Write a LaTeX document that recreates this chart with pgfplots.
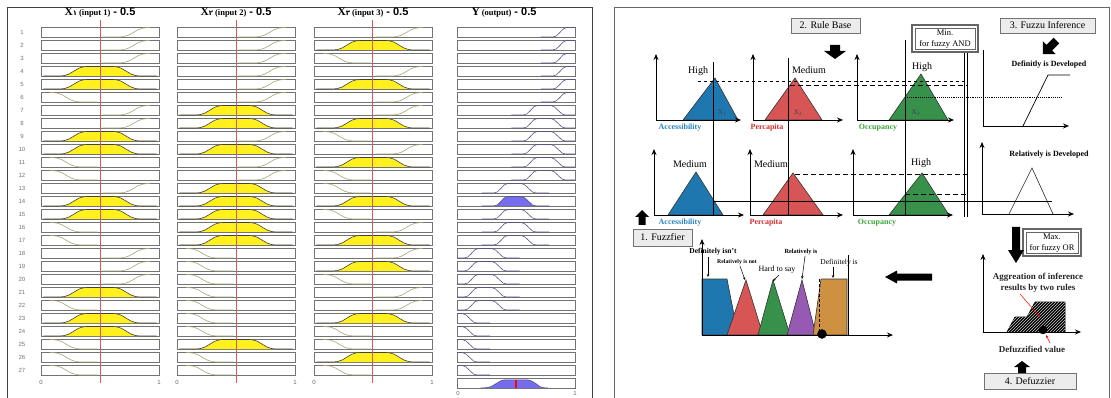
\documentclass[border=0pt]{standalone}
\usepackage{pgfplots}
\pgfplotsset{compat=1.18}
\usepackage{pgfplotstable}
\usepackage{fontspec}
\setmainfont{Liberation Serif}
\newfontfamily\sansf{Liberation Sans}
\newfontfamily\fadig{DejaVu Sans}
\usetikzlibrary{arrows.meta,patterns}

\definecolor{tblue}{RGB}{30,120,175}
\definecolor{tred}{RGB}{215,85,85}
\definecolor{tgreen}{RGB}{55,145,75}
\definecolor{tpurple}{RGB}{150,90,180}
\definecolor{torange}{RGB}{205,145,65}
\definecolor{lblue}{RGB}{40,130,190}
\definecolor{lred}{RGB}{210,45,45}
\definecolor{lgreen}{RGB}{60,165,60}
\definecolor{boxgray}{RGB}{236,236,236}
\definecolor{mfin}{RGB}{165,165,120}
\definecolor{mfout}{RGB}{85,85,135}
\definecolor{yfillc}{RGB}{118,108,238}
\definecolor{yel}{RGB}{255,240,30}
\definecolor{mred}{RGB}{210,90,90}

% membership functions, x in [0,1], y = degree
\pgfplotstableread{
x y
0.08 1
0.10 1
0.14 0.93
0.18 0.75
0.22 0.45
0.26 0.18
0.30 0.04
0.34 0
0.48 0
}\tLo
\pgfplotstableread{
x y
0.52 0
0.66 0
0.70 0.04
0.74 0.18
0.78 0.45
0.82 0.75
0.86 0.93
0.90 1
0.92 1
}\tHi
\pgfplotstableread{
x y
0.02 0
0.16 0
0.20 0.05
0.24 0.22
0.28 0.52
0.32 0.82
0.36 0.97
0.39 1
0.61 1
0.64 0.97
0.68 0.82
0.72 0.52
0.76 0.22
0.80 0.05
0.84 0
0.98 0
}\tMe
\pgfplotstableread{
x y
0.21 0
0.31 0
0.34 0.1
0.37 0.45
0.40 0.85
0.43 1
0.545 1
0.575 0.85
0.61 0.45
0.64 0.1
0.67 0
0.78 0
}\tYM
\pgfplotstableread{
x y
0.46 0
0.56 0
0.59 0.1
0.62 0.45
0.65 0.85
0.68 1
0.795 1
0.825 0.85
0.86 0.45
0.89 0.1
0.92 0
1.0 0
}\tYMH
\pgfplotstableread{
x y
0.71 0
0.81 0
0.84 0.1
0.87 0.45
0.90 0.85
0.93 1
1.0 1
}\tYH
\pgfplotstableread{
x y
0.0 0
0.06 0
0.09 0.1
0.12 0.45
0.15 0.85
0.18 1
0.295 1
0.325 0.85
0.36 0.45
0.39 0.1
0.42 0
0.53 0
}\tYLM
\pgfplotstableread{
x y
0.0 1
0.045 1
0.075 0.85
0.11 0.45
0.14 0.1
0.17 0
0.28 0
}\tYL
\pgfplotstableread{
x y
0.20 0
0.25 0.03
0.29 0.15
0.33 0.45
0.37 0.75
0.40 0.85
0.60 0.85
0.63 0.75
0.67 0.45
0.70 0.15
0.73 0.03
0.77 0
}\tAgg

\tikzset{
 inl/.style={draw=mfin, line width=0.6pt},
 inm/.style={fill=yel, draw=black!75, line width=0.6pt},
 outl/.style={draw=mfout, line width=0.6pt},
 outf/.style={fill=yfillc, draw=mfout, line width=0.6pt},
 boxl/.style={draw=black!55, line width=0.5pt},
 rown/.style={font=\sansf\fontsize{6}{6}\selectfont, text=black!55, inner sep=0pt},
 tick/.style={font=\sansf\fontsize{6}{6}\selectfont, text=black!60, inner sep=0pt},
 ax/.style={-{Stealth[length=6pt,width=5pt]}, line width=0.8pt},
 sa/.style={-{Stealth[length=3pt,width=2.5pt]}, line width=0.5pt},
 lab/.style={inner sep=0pt, font=\fontsize{10}{11}\selectfont},
 clab/.style={inner sep=0pt, font=\fontsize{8}{9}\selectfont\bfseries},
}

\newcommand{\mf}[4]{\addplot[#4] table[x expr={#1+118*\thisrow{x}}, y expr={24+13*#2-9.5*\thisrow{y}}] {#3};}
\newcommand{\InL}[2]{\mf{#1}{#2}{\tLo}{inl}}
\newcommand{\InH}[2]{\mf{#1}{#2}{\tHi}{inl}}
\newcommand{\InM}[2]{\mf{#1}{#2}{\tMe}{inm}}
\newcommand{\OutH}[2]{\mf{#1}{#2}{\tYH}{outl}}
\newcommand{\OutMH}[2]{\mf{#1}{#2}{\tYMH}{outl}}
\newcommand{\OutM}[2]{\mf{#1}{#2}{\tYM}{outl}}
\newcommand{\OutF}[2]{\mf{#1}{#2}{\tYM}{outf}}
\newcommand{\OutLM}[2]{\mf{#1}{#2}{\tYLM}{outl}}
\newcommand{\OutL}[2]{\mf{#1}{#2}{\tYL}{outl}}
\newcommand{\In}[3]{\csname In#3\endcsname{#1}{#2}}
\newcommand{\Out}[3]{\csname Out#3\endcsname{#1}{#2}}
\newcommand{\bx}[2]{\draw[boxl] (#1,{14+13*#2}) rectangle ({#1+118},{24+13*#2});}
\newcommand{\R}[5]{\node[rown] at (22,{19.5+13*#1}) {#1};
 \bx{41}{#1}\bx{177}{#1}\bx{314}{#1}\bx{457}{#1}
 \In{41}{#1}{#2}\In{177}{#1}{#3}\In{314}{#1}{#4}\Out{457}{#1}{#5}}
\newcommand{\ttl}[4]{\node[inner sep=0pt] at (#1,13) {\fontsize{11.5}{11.5}\selectfont\bfseries #2{\fadig\fontsize{7}{7}\selectfont #3}\,{\fontsize{8.5}{8.5}\selectfont (#4)} {\sansf\fontsize{11}{11}\selectfont\bfseries - 0.5}};}

\begin{document}
\begin{tikzpicture}
\begin{axis}[
 width=1111pt, height=398pt, scale only axis,
 xmin=0, xmax=1111, ymin=0, ymax=398, y dir=reverse,
 axis lines=none, clip=false,
]
% ================= LEFT PANEL =================
\draw[black!75, line width=1pt] (7,402) -- (7,8) -- (592,8) -- (592,402);
\ttl{100}{X}{۱}{input 1}
\ttl{236}{X}{۲}{input 2}
\ttl{373}{X}{۳}{input 3}
\node[inner sep=0pt] at (504,13) {\fontsize{11.5}{11.5}\selectfont\bfseries Y\,{\fontsize{8.5}{8.5}\selectfont (output)} {\sansf\fontsize{11}{11}\selectfont\bfseries - 0.5}};

\R{1}{H}{H}{H}{H}
\R{2}{H}{H}{M}{H}
\R{3}{H}{H}{L}{H}
\R{4}{M}{H}{H}{H}
\R{5}{M}{H}{M}{H}
\R{6}{L}{H}{H}{H}
\R{7}{H}{M}{H}{MH}
\R{8}{H}{M}{M}{MH}
\R{9}{M}{H}{L}{MH}
\R{10}{M}{M}{H}{MH}
\R{11}{L}{H}{M}{MH}
\R{12}{L}{H}{L}{MH}
\R{13}{H}{M}{L}{M}
\R{14}{M}{M}{M}{F}
\R{15}{M}{M}{L}{M}
\R{16}{L}{M}{H}{M}
\R{17}{L}{M}{M}{M}
\R{18}{H}{L}{H}{LM}
\R{19}{H}{L}{M}{LM}
\R{20}{H}{L}{L}{LM}
\R{21}{M}{L}{H}{LM}
\R{22}{L}{L}{H}{LM}
\R{23}{M}{L}{M}{L}
\R{24}{M}{L}{L}{L}
\R{25}{L}{M}{L}{L}
\R{26}{L}{L}{M}{L}
\R{27}{L}{L}{L}{L}

% input marker lines (value 0.5 of each input)
\addplot[draw=mred, line width=0.6pt] coordinates {(100.5,20) (100.5,383)};
\addplot[draw=mred, line width=0.6pt] coordinates {(236.5,20) (236.5,383)};
\addplot[draw=mred, line width=0.6pt] coordinates {(372.5,20) (372.5,383)};

% aggregated output row
\draw[boxl] (457,378) rectangle (575,388);
\addplot[outf] table[x expr={457+118*\thisrow{x}}, y expr={388-9.5*\thisrow{y}}] {\tAgg};
\addplot[draw=red, line width=1.6pt] coordinates {(516,388) (516,380)};

% tick labels
\node[tick] at (41,382) {0};  \node[tick] at (159,382) {1};
\node[tick] at (177,382) {0}; \node[tick] at (295,382) {1};
\node[tick] at (314,382) {0}; \node[tick] at (432,382) {1};
\node[tick] at (458,393) {0}; \node[tick] at (575,393) {1};

% ================= RIGHT PANEL =================
\draw[black!60, line width=1pt] (614,402) -- (614,8) -- (1109,8) -- (1109,402);

% boxes
\draw[fill=boxgray, draw=black!55, line width=0.7pt] (791,18) rectangle (860,33);
\node[lab] at (825.5,25.5) {2. Rule Base};
\draw[fill=boxgray, draw=black!55, line width=0.7pt] (1000,18) rectangle (1095,33);
\node[lab] at (1047.5,25.5) {3. Fuzzu Inference};
\fill[white] (912,25) rectangle (978,52);
\draw[draw=black!60, line width=1.4pt] (912,25) rectangle (978,52);
\draw[draw=black!60, line width=0.5pt] (914.8,27.8) rectangle (975.2,49.2);
\node[inner sep=0pt, font=\fontsize{8.5}{9}\selectfont] at (945,33) {Min.};
\node[inner sep=0pt, font=\fontsize{8.5}{9}\selectfont] at (945,44) {for fuzzy AND};
\draw[fill=boxgray, draw=black!55, line width=0.7pt] (633,229) rectangle (692,246);
\node[lab] at (662.5,237.5) {1. Fuzzfier};
\draw[fill=boxgray, draw=black!55, line width=0.7pt] (984,373) rectangle (1076,389);
\node[lab] at (1030,381) {4. Defuzzier};
\fill[white] (1023,229) rectangle (1081,256);
\draw[draw=black!60, line width=1.4pt] (1023,229) rectangle (1081,256);
\draw[draw=black!60, line width=0.5pt] (1025.8,231.8) rectangle (1078.2,253.2);
\node[inner sep=0pt, font=\fontsize{8.5}{9}\selectfont] at (1052,237) {Max.};
\node[inner sep=0pt, font=\fontsize{8.5}{9}\selectfont] at (1052,248) {for fuzzy OR};

% block arrows
\fill[black] (830,45) -- (840,45) -- (840,51) -- (846,51) -- (835,59) -- (824,51) -- (830,51) -- cycle;
\fill[black] (1053.6,37.8) -- (1059.2,43.4) -- (1052.1,50.5) -- (1055.7,54.1) -- (1042.9,54.1) -- (1042.9,41.3) -- (1046.5,44.9) -- cycle;
\fill[black] (642,210) -- (649,217) -- (645.5,217) -- (645.5,225) -- (638.5,225) -- (638.5,217) -- (635,217) -- cycle;
\fill[black] (885,277) -- (897,270.5) -- (897,273.5) -- (932,273.5) -- (932,280.5) -- (897,280.5) -- (897,283.5) -- cycle;
\fill[black] (1012,227) -- (1020,227) -- (1020,250) -- (1024,250) -- (1016,263) -- (1008,250) -- (1012,250) -- cycle;
\fill[black] (1022,361) -- (1030,367) -- (1026,367) -- (1026,373) -- (1018,373) -- (1018,367) -- (1014,367) -- cycle;

% ---- row 1 ----
\addplot[fill=tblue, draw=black!80, line width=0.6pt] coordinates {(683,120) (715,78) (738,120) (683,120)};
\addplot[fill=tred, draw=black!80, line width=0.6pt] coordinates {(765,120) (795,78) (822,120) (765,120)};
\addplot[fill=tgreen, draw=black!80, line width=0.6pt] coordinates {(889,120) (921,74) (948,120) (889,120)};
\draw[ax] (656,120) -- (656,54);
\draw[ax] (656,120) -- (741,120);
\draw[ax] (753,120) -- (753,54);
\draw[ax] (753,120) -- (843,120);
\draw[ax] (857,120) -- (857,54);
\draw[ax] (857,120) -- (954,120);
\draw[line width=0.8pt] (983,126) -- (983,50);
\draw[ax] (983,126) -- (1069,126);
\addplot[draw=black, line width=0.7pt] coordinates {(1023,126) (1048,75) (1070,75)};
\draw[dashed, line width=0.7pt] (698,81) -- (967,81);
\draw[dashed, line width=0.7pt, dash pattern=on 5pt off 3pt] (790,85) -- (967,85);
\draw[densely dotted, line width=0.9pt] (905,97) -- (1062,97);
\node[lab] at (698,71) {High};
\node[lab] at (809,70) {Medium};
\node[lab] at (922,67) {High};
\node[inner sep=0pt, font=\fontsize{7}{7}\selectfont, text=black!75] at (722,113) {X\textsubscript{1}};
\node[inner sep=0pt, font=\fontsize{7}{7}\selectfont, text=black!75] at (798,113) {X\textsubscript{2}};
\node[inner sep=0pt, font=\fontsize{7}{7}\selectfont, text=black!75] at (916,113) {X\textsubscript{3}};
\node[clab, text=lblue] at (680,128) {Accessibility};
\node[clab, text=lred] at (767,128) {Percapita};
\node[clab, text=lgreen] at (878,128) {Occupancy};
\node[clab] at (1049,65) {Definitly is Developed};

% ---- row 2 ----
\addplot[fill=tblue, draw=black!80, line width=0.6pt] coordinates {(668,215) (696,172) (723,215) (668,215)};
\addplot[fill=tred, draw=black!80, line width=0.6pt] coordinates {(763,215) (793,173) (823,215) (763,215)};
\addplot[fill=tgreen, draw=black!80, line width=0.6pt] coordinates {(889,215) (922,173) (949,215) (889,215)};
\addplot[draw=black!85, line width=0.6pt] coordinates {(1009,214) (1032,168) (1053,214)};
\draw[ax] (654,215) -- (654,149);
\draw[ax] (654,215) -- (744,215);
\draw[ax] (750,215) -- (750,149);
\draw[ax] (750,215) -- (843,215);
\draw[ax] (853,215) -- (853,149);
\draw[ax] (853,215) -- (953,215);
\draw[ax] (982,214) -- (982,142);
\draw[ax] (982,214) -- (1074,214);
\draw[dashed, line width=0.7pt, dash pattern=on 5pt off 3pt] (795,174) -- (967,174);
\draw[dashed, line width=0.7pt, dash pattern=on 5pt off 3pt] (905,194) -- (967,194);
\draw[line width=0.6pt] (713,201) -- (1052,201);
\node[lab] at (690,164) {Medium};
\node[lab] at (771,164) {Medium};
\node[lab] at (921,163) {High};
\node[clab, text=lblue] at (680,223) {Accessibility};
\node[clab, text=lred] at (766,223) {Percapita};
\node[clab, text=lgreen] at (877,223) {Occupancy};
\node[clab] at (1049,155) {Relatively is Developed};

% vertical input lines
\draw[line width=0.7pt] (713,62) -- (713,216);
\draw[line width=0.7pt] (788,58) -- (788,216);
\draw[line width=0.7pt] (905,40) -- (905,216);
\draw[line width=0.7pt] (964,53) -- (964,217);
\draw[line width=0.7pt] (967,53) -- (967,217);

% ---- output MFs ----
\addplot[fill=tblue, draw=black!80, line width=0.6pt] coordinates {(702,335) (702,279) (727,279) (738,335) (702,335)};
\addplot[fill=tred, draw=black!80, line width=0.6pt] coordinates {(727,335) (746,280) (763,335) (727,335)};
\addplot[fill=tgreen, draw=black!80, line width=0.6pt] coordinates {(758,335) (773,280) (790,335) (758,335)};
\addplot[fill=tpurple, draw=black!80, line width=0.6pt] coordinates {(787,335) (802,280) (816,335) (787,335)};
\addplot[fill=torange, draw=black!80, line width=0.6pt] coordinates {(813,335) (821,279) (847,279) (847,335) (813,335)};
\draw[line width=0.7pt] (848,255) -- (848,335);
\draw[dashed, line width=1pt, dash pattern=on 3pt off 2pt] (819,279) -- (819,335);
\draw[ax] (702,335) -- (702,239);
\draw[ax] (702,335) -- (893,335);
\addplot[only marks, mark=*, mark size=4.5pt, black] coordinates {(822,334)};
\node[inner sep=0pt, font=\fontsize{7.5}{8}\selectfont\bfseries] at (713,252) {Definitely isn't};
\draw[sa] (708,257) -- (708,277);
\node[inner sep=0pt, font=\fontsize{5.8}{6}\selectfont\bfseries] at (737,262) {Relatively is not};
\draw[sa] (740,266) -- (745,280);
\node[inner sep=0pt, font=\fontsize{8}{8}\selectfont] at (777,270) {Hard to say};
\draw[sa] (779,275) -- (773,281);
\node[inner sep=0pt, font=\fontsize{6.3}{7}\selectfont\bfseries] at (801,252) {Relatively is};
\draw[sa] (805,256) -- (802,279);
\node[inner sep=0pt, font=\fontsize{7.5}{8}\selectfont] at (839,263) {Definitely is};
\draw[sa] (833,267) -- (833,278);

% ---- aggregation ----
\addplot[fill=black, draw=black, line width=0.6pt] coordinates {(1007,332) (1015,317) (1027,317) (1035,302) (1065,302) (1065,332) (1007,332)};
\addplot[pattern=north east lines, pattern color=white!80!black, draw=none] coordinates {(1007,332) (1015,317) (1027,317) (1035,302) (1065,302) (1065,332) (1007,332)};
\draw[ax] (983,332) -- (983,254);
\draw[ax] (983,332) -- (1081,332);
\node[inner sep=0pt, font=\fontsize{9}{10}\selectfont\bfseries, text=black!85] at (1038,277) {Aggreation of inference};
\node[inner sep=0pt, font=\fontsize{9}{10}\selectfont\bfseries, text=black!85] at (1038,288) {results by two rules};
\draw[sa, red] (1020,294) -- (1040,317);
\addplot[only marks, mark=*, mark size=4pt, black] coordinates {(1043,330)};
\draw[sa, red] (1050,343) -- (1046,335);
\node[inner sep=0pt, font=\fontsize{9}{10}\selectfont\bfseries, text=black!85] at (1032,349) {Defuzzified value};
\end{axis}
\pgfresetboundingbox
\path (0,0) rectangle (1111pt,398pt);
\end{tikzpicture}
\end{document}
